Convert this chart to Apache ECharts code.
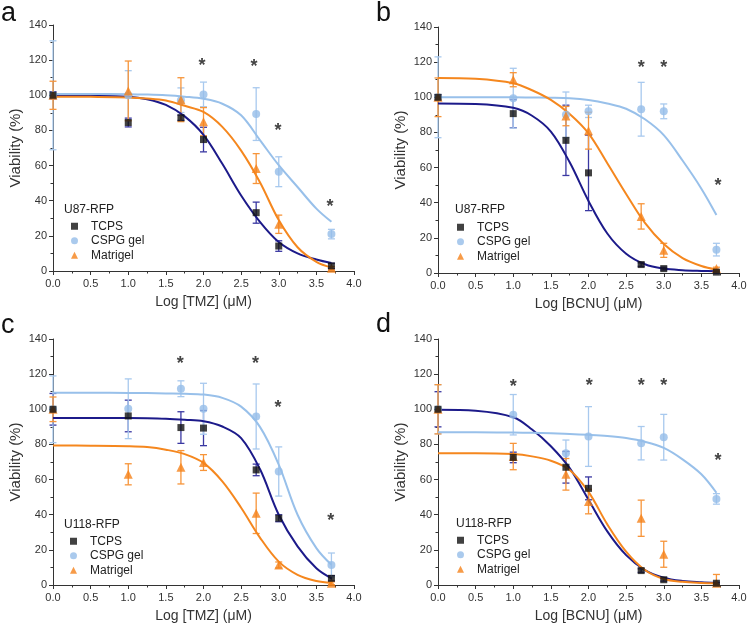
<!DOCTYPE html>
<html>
<head>
<meta charset="utf-8">
<script src="https://cdn.jsdelivr.net/npm/echarts@6/dist/echarts.min.js"></script>
<style>html,body{margin:0;padding:0;background:#fff}#c{width:750px;height:631px}</style>
</head>
<body>
<div id="c"></div>
<script>
// ---------- data ----------
const xDose = [0, 1, 1.7, 2, 2.7, 3, 3.7];
const xFit = [0, 0.5, 1, 1.25, 1.5, 1.75, 2, 2.25, 2.5, 2.75, 3, 3.25, 3.5, 3.7];
const seriesNames = ['TCPS', 'CSPG gel', 'Matrigel'];
const panelLetters = ['a', 'b', 'c', 'd'];
const cellLines = ['U87-RFP', 'U87-RFP', 'U118-RFP', 'U118-RFP'];
const xAxisNames = ['Log [TMZ] (μM)', 'Log [BCNU] (μM)', 'Log [TMZ] (μM)', 'Log [BCNU] (μM)'];
const yAxisName = 'Viability (%)';

// panel a : U87 / TMZ
const aTcps = [100, 84.5, 87.2, 74.8, 33.2, 14.2, 2.9];
const aTcpsErr = [2, 2.5, 1.5, 7, 6, 3, 1.5];
const aCspg = [100, 100, 97.2, 100.5, 89.3, 56.5, 21];
const aCspgErr = [31, 14, 7, 7, 15, 8.5, 2.7];
const aMatri = [100, 102.5, 97.5, 85, 58.3, 26.6, 1.5];
const aMatriErr = [8, 17, 12.5, 8, 8.5, 5.2, 1];
const aTcpsFit = [99.8, 99.7, 99.2, 97.8, 94.5, 88, 77.5, 61, 43, 28, 16.5, 10, 6.5, 4.5];
const aCspgFit = [100.7, 100.7, 100.6, 100.4, 100, 99.2, 98, 95.2, 88.6, 74.5, 60.2, 47.8, 35.5, 28];
const aMatriFit = [99.2, 99.1, 98.8, 98.2, 97, 94, 90.5, 82, 68.5, 50.5, 29, 13.5, 5.2, 2];
const aStars = [[1.98, 119], [2.67, 118.4], [2.99, 82], [3.68, 38.7]];

// panel b : U87 / BCNU
const bTcps = [100, 90.7, 75.5, 57, 4.8, 2.5, 0.5];
const bTcpsErr = [1.5, 8, 20, 21.5, 1, 0.8, 0.5];
const bCspg = [100, 99.5, 90, 92, 93.2, 92, 13.3];
const bCspgErr = [23, 17, 13, 3.5, 15.3, 4.2, 3.6];
const bMatri = [100, 110, 89.3, 81, 32.2, 12.9, 2.5];
const bMatriErr = [11, 4, 5.5, 10.5, 7.2, 4, 0.8];
const bTcpsFit = [96.5, 96.2, 94, 89.5, 80.5, 63, 41, 22.5, 11, 5, 2.5, 1.6, 1.2, 1];
const bCspgFit = [100, 100, 100, 99.9, 99.8, 99.5, 98.5, 96.5, 93.5, 87.5, 78.5, 64, 48, 33];
const bMatriFit = [111, 110.5, 108, 104, 98.5, 90.5, 79.5, 62.5, 45, 28.5, 16.5, 8.5, 4, 2];
const bStars = [[2.70, 119.1], [3.0, 119.1], [3.72, 51.8]];

// panel c : U118 / TMZ
const cTcps = [100, 96.2, 89.6, 89.3, 65.5, 38, 3.8];
const cTcpsErr = [9, 9, 9, 10, 3.3, 2, 1.5];
const cCspg = [100, 100.3, 111.7, 100.3, 95.9, 64.6, 11.4];
const cCspgErr = [19, 17, 4.5, 14.5, 18.5, 14, 6.8];
const cMatri = [100, 63, 67, 69.7, 40.8, 11.4, 1];
const cMatriErr = [7, 6, 9.5, 4.5, 11.5, 1.7, 0.8];
const cTcpsFit = [95, 95, 95, 94.9, 94.6, 94, 93.2, 90.2, 83.6, 66, 40, 22, 9.5, 3.8];
const cCspgFit = [109.4, 109.4, 109.3, 109.2, 109, 108.8, 108.4, 106.5, 101.5, 90, 68.5, 40, 21, 11.5];
const cMatriFit = [79.4, 79.3, 79, 78.5, 77, 74.5, 69.5, 59, 44, 27, 13.3, 5.8, 2.3, 1.2];
const cStars = [[1.69, 128.2], [2.69, 128.2], [2.99, 103], [3.69, 38.6]];

// panel d : U118 / BCNU
const dTcps = [100, 72.6, 67, 55, 8.2, 3, 1];
const dTcpsErr = [10, 3, 9, 6.5, 1, 0.8, 0.5];
const dCspg = [100, 96.9, 75, 84.5, 80.7, 84.1, 49];
const dCspgErr = [14, 11.5, 7.5, 17, 9.5, 13, 3];
const dMatri = [100, 73.1, 63, 47.5, 38, 17.5, 1];
const dMatriErr = [14, 7.5, 9, 7, 10.3, 7.4, 5];
const dTcpsFit = [99.8, 99.2, 95.5, 88.5, 79, 66.5, 48.5, 30.5, 17, 8.5, 4.2, 2.3, 1.5, 1.1];
const dCspgFit = [87, 87, 86.8, 86.6, 86.3, 86, 85.5, 84.8, 83.6, 81.5, 78, 71.5, 63, 52.5];
const dMatriFit = [75, 75, 74.5, 73.2, 70.7, 65.5, 53, 34.5, 19, 8.5, 3.4, 1.8, 1.2, 1];
const dStars = [[1.0, 114.9], [2.01, 115.5], [2.70, 115.5], [3.0, 115.5], [3.72, 72.6]];

// ---------- layout & style ----------
const FONT = '"Liberation Sans", Arial, Helvetica, sans-serif';
const gridPos = [
  {left: 53, top: 25, width: 301, height: 246},
  {left: 438, top: 27, width: 301, height: 246},
  {left: 53, top: 339, width: 301, height: 246},
  {left: 438, top: 339, width: 301, height: 246}
];
const legendPos = [
  {left: 71, top: 219}, {left: 457, top: 220},
  {left: 70, top: 534}, {left: 457, top: 533}
];
const cellTitlePos = [
  {left: 64, top: 204}, {left: 455, top: 204},
  {left: 64, top: 519}, {left: 456, top: 518}
];
const letterPos = [
  {left: 1, top: 0}, {left: 376, top: 0},
  {left: 1, top: 312}, {left: 376, top: 311}
];

const colTcpsMark = '#111111', colTcpsLine = '#1c1a8a', colTcpsErr = '#3a38a2';
const colCspgMark = '#95bde8', colCspgLine = '#98c0ea', colCspgErr = '#a8c9ee';
const colMatriMark = '#f5821a', colMatriLine = '#f5871e', colMatriErr = '#f7953a';

const panelData = [
  [aTcps, aTcpsErr, aCspg, aCspgErr, aMatri, aMatriErr, aTcpsFit, aCspgFit, aMatriFit, aStars],
  [bTcps, bTcpsErr, bCspg, bCspgErr, bMatri, bMatriErr, bTcpsFit, bCspgFit, bMatriFit, bStars],
  [cTcps, cTcpsErr, cCspg, cCspgErr, cMatri, cMatriErr, cTcpsFit, cCspgFit, cMatriFit, cStars],
  [dTcps, dTcpsErr, dCspg, dCspgErr, dMatri, dMatriErr, dTcpsFit, dCspgFit, dMatriFit, dStars]
];

function pairs(xs, ys) { return xs.map((x, i) => [x, ys[i]]); }
function errData(xs, ys, es) { return xs.map((x, i) => [x, Math.max(0, ys[i] - es[i]), ys[i] + es[i]]); }
function errRender(color) {
  return function (params, api) {
    const x = api.value(0);
    const a = api.coord([x, api.value(1)]);
    const b = api.coord([x, api.value(2)]);
    const w = 3.5;
    const st = {stroke: color, lineWidth: 1.3};
    return {type: 'group', children: [
      {type: 'line', shape: {x1: a[0], y1: a[1], x2: b[0], y2: b[1]}, style: st},
      {type: 'line', shape: {x1: a[0] - w, y1: a[1], x2: a[0] + w, y2: a[1]}, style: st},
      {type: 'line', shape: {x1: b[0] - w, y1: b[1], x2: b[0] + w, y2: b[1]}, style: st}
    ]};
  };
}
function starRender(params, api) {
  const p = api.coord([api.value(0), api.value(1)]);
  return {type: 'text', x: p[0], y: p[1] + 4,
    style: {text: '*', fill: '#444', font: 'bold 18px ' + FONT, align: 'center', verticalAlign: 'middle'}};
}

const grids = [], xAxes = [], yAxes = [], series = [], legends = [], titles = [];
const axisCommon = {
  axisLine: {show: true, onZero: false, lineStyle: {color: '#333', width: 1}},
  axisTick: {show: true, inside: false, length: 4, lineStyle: {color: '#333'}},
  minorTick: {show: true, splitNumber: 2, length: 2.5, lineStyle: {color: '#333'}},
  splitLine: {show: false},
  nameTextStyle: {color: '#333', fontFamily: FONT}
};

panelData.forEach((pd, k) => {
  const [tc, tcE, cs, csE, ma, maE, tcF, csF, maF, stars] = pd;
  grids.push(Object.assign({containLabel: false}, gridPos[k]));
  xAxes.push(Object.assign({}, axisCommon, {
    type: 'value', gridIndex: k, min: 0, max: 4, interval: 0.5,
    name: xAxisNames[k], nameLocation: 'middle', nameGap: 24,
    nameTextStyle: {color: '#333', fontSize: 14, fontFamily: FONT},
    axisLabel: {color: '#333', fontSize: 11, fontFamily: FONT, margin: 7, formatter: v => v.toFixed(1)}
  }));
  yAxes.push(Object.assign({}, axisCommon, {
    type: 'value', gridIndex: k, min: 0, max: 140, interval: 20,
    name: yAxisName, nameLocation: 'middle', nameGap: 30,
    nameTextStyle: {color: '#333', fontSize: 15, fontFamily: FONT},
    axisLabel: {color: '#333', fontSize: 11, fontFamily: FONT, margin: 6}
  }));
  const ax = {xAxisIndex: k, yAxisIndex: k};
  // error bars
  [[tc, tcE, colTcpsErr], [cs, csE, colCspgErr], [ma, maE, colMatriErr]].forEach(([v, e, col]) => {
    series.push(Object.assign({type: 'custom', name: 'err', renderItem: errRender(col),
      encode: {x: 0, y: [1, 2]}, data: errData(xDose, v, e), z: 1, silent: true}, ax));
  });
  // fitted curves
  [[tcF, colTcpsLine, 'TCPS fit'], [csF, colCspgLine, 'CSPG gel fit'], [maF, colMatriLine, 'Matrigel fit']].forEach(([v, col, nm]) => {
    series.push(Object.assign({type: 'line', name: nm, data: pairs(xFit, v), smooth: 0.35,
      showSymbol: false, symbol: 'none', lineStyle: {color: col, width: 2}, z: 2, silent: true}, ax));
  });
  // points
  series.push(Object.assign({type: 'scatter', name: 'TCPS', symbol: 'rect', symbolSize: 7,
    itemStyle: {color: colTcpsMark}, data: pairs(xDose, tc), z: 4, clip: false}, ax));
  series.push(Object.assign({type: 'scatter', name: 'CSPG gel', symbol: 'circle', symbolSize: 8,
    itemStyle: {color: colCspgMark}, data: pairs(xDose, cs), z: 3, clip: false}, ax));
  series.push(Object.assign({type: 'scatter', name: 'Matrigel', symbol: 'triangle', symbolSize: 9,
    itemStyle: {color: colMatriMark}, data: pairs(xDose, ma), z: 3, clip: false}, ax));
  // significance stars
  series.push(Object.assign({type: 'custom', name: 'stars', renderItem: starRender,
    encode: {x: 0, y: 1}, data: stars, z: 5, silent: true}, ax));

  legends.push({
    data: seriesNames, orient: 'vertical', left: legendPos[k].left, top: legendPos[k].top,
    padding: 0, itemWidth: 7, itemHeight: 7, itemGap: 0, selectedMode: false,
    textStyle: {color: '#222', fontSize: 12, fontFamily: FONT, lineHeight: 14.5, padding: [0, 0, 0, 8]}
  });
  titles.push({text: cellLines[k], left: cellTitlePos[k].left, top: cellTitlePos[k].top, padding: 0,
    textStyle: {color: '#222', fontSize: 12, fontWeight: 'normal', fontFamily: FONT}});
  titles.push({text: panelLetters[k], left: letterPos[k].left, top: letterPos[k].top, padding: 0,
    textStyle: {color: '#111', fontSize: 27, fontWeight: 'normal', fontFamily: FONT}});
});

const chart = echarts.init(document.getElementById('c'), null, {renderer: 'canvas'});
chart.setOption({
  backgroundColor: '#fff',
  animation: false,
  title: titles,
  legend: legends,
  grid: grids,
  xAxis: xAxes,
  yAxis: yAxes,
  series: series
});
</script>
</body>
</html>
